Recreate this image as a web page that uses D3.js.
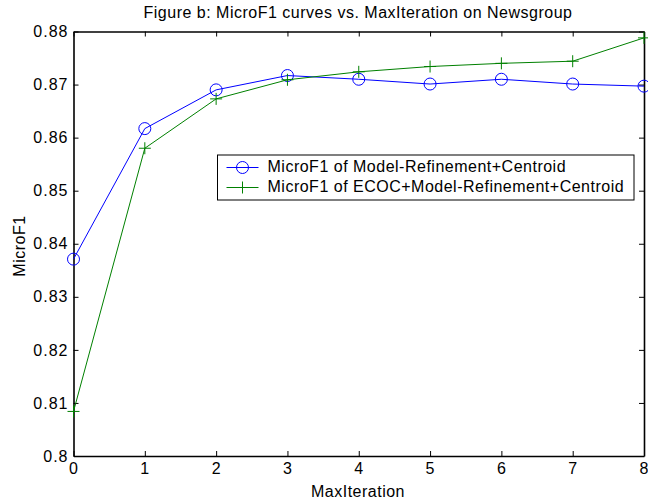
<!DOCTYPE html>
<html>
<head>
<meta charset="utf-8">
<script src="https://cdn.jsdelivr.net/npm/d3@7"></script>
<style>
  body { margin: 0; background: #fff; }
  svg { font-family: "Liberation Sans", Arial, sans-serif; }
  .axis path, .axis line { stroke: #000; }
  .axis text { font-size: 16px; fill: #000; letter-spacing: 1px; }
</style>
</head>
<body>
<div class="chart"></div>
<script>
// values
const iterations = [0, 1, 2, 3, 4, 5, 6, 7, 8]
const refineCentroid = [0.8371, 0.8617, 0.8690, 0.8717, 0.8710, 0.8701, 0.8710, 0.8701, 0.8697]
const ecocRefineCentroid = [0.8084, 0.8580, 0.8673, 0.8709, 0.8724, 0.8734, 0.8740, 0.8744, 0.8788]
const yTicks = [0.8, 0.81, 0.82, 0.83, 0.84, 0.85, 0.86, 0.87, 0.88]
const seriesNames = ['MicroF1 of Model-Refinement+Centroid', 'MicroF1 of ECOC+Model-Refinement+Centroid']

const width = 648
const height = 504
const margin = {top: 31.5, right: 4, bottom: 48, left: 73.5}

let x = d3.scaleLinear().domain([0, 8]).range([margin.left, width - margin.right])
let y = d3.scaleLinear().domain([0.8, 0.88]).range([height - margin.bottom, margin.top])

let svg = d3.select('.chart')
  .append('svg')
  .attr('width', width)
  .attr('height', height)

const fmt = d => d3.format('.2~f')(d)

// axes, with mirrored ticks on top/right
svg.append('g')
  .attr('class', 'x axis')
  .attr('transform', 'translate(0,' + y.range()[0] + ')')
  .call(d3.axisBottom(x).tickValues(iterations).tickSizeInner(-5).tickSizeOuter(0).tickPadding(7))

svg.append('g')
  .attr('class', 'x axis')
  .attr('transform', 'translate(0,' + y.range()[1] + ')')
  .call(d3.axisTop(x).tickValues(iterations).tickSizeInner(-5).tickSizeOuter(0).tickFormat(''))

svg.append('g')
  .attr('class', 'y axis')
  .attr('transform', 'translate(' + x.range()[0] + ',0)')
  .call(d3.axisLeft(y).tickValues(yTicks).tickFormat(fmt).tickSizeInner(-5).tickSizeOuter(0).tickPadding(5))

svg.append('g')
  .attr('class', 'y axis')
  .attr('transform', 'translate(' + x.range()[1] + ',0)')
  .call(d3.axisRight(y).tickValues(yTicks).tickFormat('').tickSizeInner(-5).tickSizeOuter(0))

svg.selectAll('.axis path').attr('stroke-width', 1.6)

// lines
const series = [
  {values: refineCentroid, color: '#0000ff', marker: 'circle'},
  {values: ecocRefineCentroid, color: '#008000', marker: 'plus'}
]

let line = d3.line()
  .x((d, i) => x(iterations[i]))
  .y(d => y(d))

series.forEach(s => {
  svg.append('path')
    .datum(s.values)
    .attr('fill', 'none')
    .attr('stroke', s.color)
    .attr('stroke-width', 1)
    .attr('d', line)

  let pts = svg.append('g').selectAll('g')
    .data(s.values)
    .join('g')
    .attr('transform', (d, i) => 'translate(' + x(iterations[i]) + ',' + y(d) + ')')

  drawMarker(pts, s)
})

function drawMarker(sel, s) {
  if (s.marker == 'circle') {
    sel.append('circle').attr('r', 6).attr('fill', 'none').attr('stroke', s.color).attr('stroke-width', 1)
  } else {
    sel.append('path').attr('d', 'M-6,0H6M0,-6V6').attr('stroke', s.color).attr('stroke-width', 1)
  }
}

// legend
let legend = svg.append('g').attr('transform', 'translate(217.5,155)')
legend.append('rect')
  .attr('width', 416.5).attr('height', 45)
  .attr('fill', '#fff').attr('stroke', '#000').attr('stroke-width', 1)

series.forEach((s, i) => {
  let row = legend.append('g').attr('transform', 'translate(0,' + (12.5 + i * 20) + ')')
  row.append('line').attr('x1', 9).attr('x2', 41).attr('stroke', s.color).attr('stroke-width', 1)
  drawMarker(row.append('g').attr('transform', 'translate(25,0)'), s)
  row.append('text')
    .attr('x', 50).attr('dy', '0.27em')
    .attr('font-size', 16)
    .attr('letter-spacing', 0.5)
    .text(seriesNames[i])
})

// title and labels
svg.append('text')
  .attr('x', 358).attr('y', 18)
  .attr('text-anchor', 'middle')
  .attr('font-size', 16)
  .attr('letter-spacing', 0.5)
  .text('Figure b: MicroF1 curves vs. MaxIteration on Newsgroup')

svg.append('text')
  .attr('x', 358).attr('y', 497)
  .attr('text-anchor', 'middle')
  .attr('font-size', 16)
  .attr('letter-spacing', 0.5)
  .text('MaxIteration')

svg.append('text')
  .attr('transform', 'translate(25,246) rotate(-90)')
  .attr('text-anchor', 'middle')
  .attr('font-size', 16)
  .attr('letter-spacing', 0.5)
  .text('MicroF1')
</script>
</body>
</html>
